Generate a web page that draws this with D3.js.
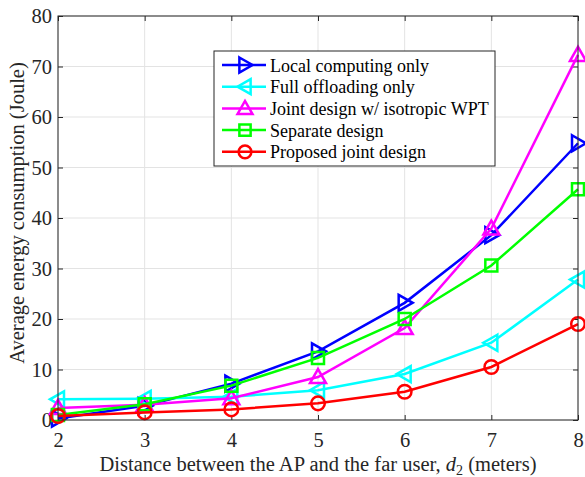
<!DOCTYPE html>
<html>
<head>
<meta charset="utf-8">
<script src="https://cdn.jsdelivr.net/npm/d3@7"></script>
<style>
  body { margin: 0; background: #fff; }
  svg { font-family: "Liberation Serif", "Times New Roman", serif; }
</style>
</head>
<body>
<svg id="chart" width="585" height="477"></svg>
<script>
const distances = [2, 3, 4, 5, 6, 7, 8];
const localOnly = [0.3, 2.8, 7.2, 13.6, 23.2, 36.6, 54.8];
const fullOffload = [4.1, 4.2, 4.6, 5.9, 9.1, 15.3, 27.8];
const jointIso = [2.4, 3.0, 4.3, 8.5, 18.2, 37.9, 72.3];
const separate = [1.0, 3.1, 6.8, 12.3, 20.0, 30.6, 45.7];
const proposed = [0.8, 1.5, 2.1, 3.3, 5.6, 10.5, 19.0];
const xTicks = [2, 3, 4, 5, 6, 7, 8];
const yTicks = [0, 10, 20, 30, 40, 50, 60, 70, 80];

const series = [
  { name: 'Local computing only', values: localOnly, color: '#0000ff', marker: 'right' },
  { name: 'Full offloading only', values: fullOffload, color: '#00ffff', marker: 'left' },
  { name: 'Joint design w/ isotropic WPT', values: jointIso, color: '#ff00ff', marker: 'up' },
  { name: 'Separate design', values: separate, color: '#00ff00', marker: 'square' },
  { name: 'Proposed joint design', values: proposed, color: '#ff0000', marker: 'circle' },
];

const margin = { top: 16, right: 7, bottom: 57, left: 58 };
const width = 585, height = 477;

const svg = d3.select('#chart');

const x = d3.scaleLinear().domain([2, 8]).range([margin.left, width - margin.right]);
const y = d3.scaleLinear().domain([0, 80]).range([height - margin.bottom, margin.top]);

// grid
const grid = svg.append('g').attr('stroke', '#e3e3e3').attr('stroke-width', 1);
xTicks.forEach((t) => {
  grid.append('line').attr('x1', x(t)).attr('x2', x(t)).attr('y1', y(0)).attr('y2', y(80));
});
yTicks.forEach((t) => {
  grid.append('line').attr('x1', x(2)).attr('x2', x(8)).attr('y1', y(t)).attr('y2', y(t));
});

// axes (ticks inward, MATLAB style)
const axisColor = '#262626';
const tickLen = 5;
svg.append('g')
  .attr('transform', `translate(0,${y(0)})`)
  .call(d3.axisBottom(x).tickValues(xTicks).tickSize(-tickLen).tickPadding(12).tickFormat(d3.format('d')))
  .call((g) => g.select('.domain').remove());
svg.append('g')
  .attr('transform', `translate(0,${y(80)})`)
  .call(d3.axisTop(x).tickValues(xTicks).tickSize(-tickLen).tickFormat(''))
  .call((g) => g.select('.domain').remove());
svg.append('g')
  .attr('transform', `translate(${x(2)},0)`)
  .call(d3.axisLeft(y).tickValues(yTicks).tickSize(-tickLen).tickPadding(6).tickFormat(d3.format('d')))
  .call((g) => g.select('.domain').remove());
svg.append('g')
  .attr('transform', `translate(${x(8)},0)`)
  .call(d3.axisRight(y).tickValues(yTicks).tickSize(-tickLen).tickFormat(''))
  .call((g) => g.select('.domain').remove());

svg.selectAll('.tick line').attr('stroke', axisColor);
svg.selectAll('.tick text')
  .attr('fill', axisColor)
  .style('font-size', '20.5px')
  .style('font-family', '"Liberation Serif", serif');

// markers
function markerPath(type, s) {
  switch (type) {
    case 'right': return `M${-s * 0.75},${-s}L${s},0L${-s * 0.75},${s}Z`;
    case 'left': return `M${s * 0.75},${-s}L${-s},0L${s * 0.75},${s}Z`;
    case 'up': return `M${-s},${s * 0.75}L0,${-s}L${s},${s * 0.75}Z`;
    case 'square': { const h = s * 0.75; return `M${-h},${-h}H${h}V${h}H${-h}Z`; }
    default: return d3.arc()({ innerRadius: 0, outerRadius: s * 0.85, startAngle: 0, endAngle: 2 * Math.PI });
  }
}

const line = d3.line().x((d, i) => x(distances[i])).y((d) => y(d));

const plot = svg.append('g');
series.forEach((s) => {
  const g = plot.append('g');
  g.append('path')
    .attr('d', line(s.values))
    .attr('fill', 'none')
    .attr('stroke', s.color)
    .attr('stroke-width', 2.5);
  g.selectAll('path.mk')
    .data(s.values)
    .join('path')
    .attr('class', 'mk')
    .attr('transform', (d, i) => `translate(${x(distances[i])},${y(d)})`)
    .attr('d', markerPath(s.marker, 8))
    .attr('fill', 'none')
    .attr('stroke', s.color)
    .attr('stroke-width', 2.5);
});

// frame
svg.append('rect')
  .attr('x', x(2)).attr('y', y(80))
  .attr('width', x(8) - x(2)).attr('height', y(0) - y(80))
  .attr('fill', 'none').attr('stroke', axisColor).attr('stroke-width', 1);

// legend
const lg = svg.append('g').attr('transform', 'translate(214,51)');
lg.append('rect')
  .attr('width', 281).attr('height', 115)
  .attr('fill', '#fff').attr('stroke', axisColor).attr('stroke-width', 1);
series.forEach((s, i) => {
  const yy = 14 + i * 21.7;
  lg.append('line')
    .attr('x1', 8).attr('x2', 52).attr('y1', yy).attr('y2', yy)
    .attr('stroke', s.color).attr('stroke-width', 2.5);
  lg.append('path')
    .attr('transform', `translate(31,${yy})`)
    .attr('d', markerPath(s.marker, 7.5))
    .attr('fill', 'none').attr('stroke', s.color).attr('stroke-width', 2.5);
  lg.append('text')
    .attr('x', 56).attr('y', yy + 6.5)
    .attr('fill', '#000')
    .style('font-size', '18px')
    .text(s.name);
});

// axis labels
const xl = svg.append('text')
  .attr('x', 318).attr('y', 471)
  .attr('text-anchor', 'middle')
  .attr('fill', axisColor)
  .style('font-size', '20.5px');
xl.append('tspan').text('Distance between the AP and the far user, ');
xl.append('tspan').attr('font-style', 'italic').text('d');
xl.append('tspan').attr('dy', 3.5).style('font-size', '14px').text('2');
xl.append('tspan').attr('dy', -3.5).text(' (meters)');

svg.append('text')
  .attr('transform', `translate(24,213) rotate(-90)`)
  .attr('text-anchor', 'middle')
  .attr('fill', axisColor)
  .style('font-size', '20.5px')
  .text('Average energy consumption (Joule)');
</script>
</body>
</html>
